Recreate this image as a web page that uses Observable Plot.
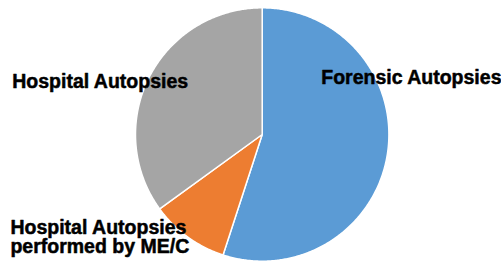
<!DOCTYPE html>
<html>
<head>
<meta charset="utf-8">
<script src="https://cdn.jsdelivr.net/npm/d3@7"></script>
<script src="https://cdn.jsdelivr.net/npm/@observablehq/plot@0.6"></script>
<style>
  html, body { margin: 0; padding: 0; background: #fff; }
  #chart { width: 501px; height: 264px; }
</style>
</head>
<body>
<div id="chart"></div>
<script>
// Data
const categories = ["Forensic Autopsies", "Hospital Autopsies performed by ME/C", "Hospital Autopsies"];
const values = [55, 10, 35];
const labelTexts = ["Forensic Autopsies", "Hospital Autopsies\nperformed by ME/C", "Hospital Autopsies"];

// Styles / layout
const colors = ["#5B9BD5", "#ED7D31", "#A5A5A5"];
const labelPos = [
  {x: 0.466, y: 0.449},
  {x: -1.987, y: -0.813},
  {x: -1.973, y: 0.410}
];

// Build slice polygons (unit circle, angle clockwise from 12 o'clock)
const total = d3.sum(values);
let acc = 0;
const pts = [];
categories.forEach((cat, i) => {
  const a0 = acc / total * 2 * Math.PI;
  acc += values[i];
  const a1 = acc / total * 2 * Math.PI;
  const n = Math.max(2, Math.ceil((a1 - a0) / (Math.PI / 360)));
  pts.push({cat, x: 0, y: 0});
  for (let k = 0; k <= n; k++) {
    const a = a0 + (a1 - a0) * k / n;
    pts.push({cat, x: Math.sin(a), y: Math.cos(a)});
  }
  pts.push({cat, x: 0, y: 0});
});

const labels = labelTexts.map((t, i) => ({text: t, ...labelPos[i]}));

const chart = Plot.plot({
  width: 501,
  height: 264,
  marginLeft: 135,
  marginRight: 112.6,
  marginTop: 7.3,
  marginBottom: 3.3,
  style: {fontFamily: "'Liberation Sans', Arial, sans-serif", background: "#fff"},
  x: {domain: [-1, 1], axis: null},
  y: {domain: [-1, 1], axis: null},
  color: {domain: categories, range: colors},
  marks: [
    Plot.line(pts, {x: "x", y: "y", z: "cat", fill: "cat", stroke: "white", strokeWidth: 1.5, curve: "linear"}),
    Plot.text(labels, {x: "x", y: "y", text: "text", textAnchor: "start", fontSize: 19.5, fontWeight: "bold", fill: "black", stroke: "black", strokeWidth: 0.5, lineHeight: 0.95})
  ]
});
document.getElementById("chart").appendChild(chart);
</script>
</body>
</html>
